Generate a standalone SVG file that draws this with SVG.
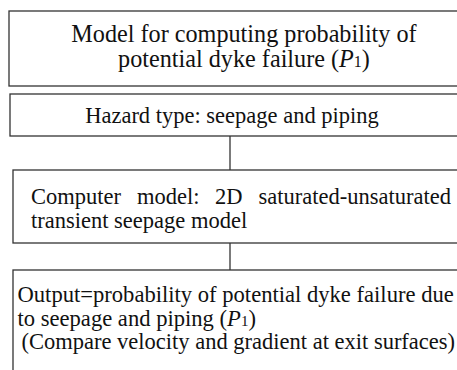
<svg xmlns="http://www.w3.org/2000/svg" width="457" height="370" viewBox="0 0 457 370">
<style>
.box{fill:#fff;stroke:#333;stroke-width:1.3}
.t{font-family:"Liberation Serif","Times New Roman",serif;font-size:22.5px;fill:#111}
.big{font-size:24.2px}
.out{font-size:22.6px}
.c{text-anchor:middle}
.conn{stroke:#333;stroke-width:1.3;fill:none}
</style>
<rect width="457" height="370" fill="#fff"/>
<g id="connectors">
<line class="conn" x1="230" y1="136" x2="230" y2="170"/>
<line class="conn" x1="230" y1="243" x2="230" y2="270"/>
</g>
<g id="n1">
<rect class="box" x="9" y="11" width="470" height="75"/>
<text class="t big c" x="244" y="41.5">Model for computing probability of</text>
<text class="t big c" x="244" y="66.5">potential dyke failure (<tspan font-style="italic">P</tspan><tspan font-size="16">1</tspan>)</text>
</g>
<g id="n2">
<rect class="box" x="10" y="94" width="470" height="42"/>
<text class="t c" x="232" y="122.5">Hazard type: seepage and piping</text>
</g>
<g id="n3">
<rect class="box" x="13" y="170" width="470" height="73"/>
<text class="t" x="31" y="204">Computer</text>
<text class="t" x="137" y="204">model:</text>
<text class="t" x="215" y="204">2D</text>
<text class="t" x="451" y="204" text-anchor="end">saturated-unsaturated</text>
<text class="t" x="31" y="228">transient seepage model</text>
</g>
<g id="n4">
<rect class="box" x="13" y="270" width="470" height="120"/>
<text class="t out" x="17.5" y="302">Output=probability of potential dyke failure due</text>
<text class="t out" x="17.5" y="325.5">to seepage and piping (<tspan font-style="italic">P</tspan><tspan font-size="15">1</tspan>)</text>
<text class="t" x="21.5" y="349">(Compare velocity and gradient at exit surfaces)</text>
</g>
</svg>
